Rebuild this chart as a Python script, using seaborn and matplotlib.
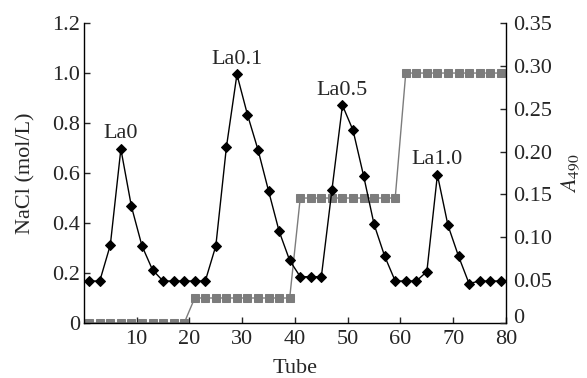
import matplotlib
matplotlib.use("Agg")
import matplotlib.pyplot as plt
import seaborn as sns

# tube numbers sampled (every second tube)
tubes = list(range(1, 80, 2))

# NaCl step gradient (left axis)
nacl = [0.0] * 10 + [0.1] * 10 + [0.5] * 10 + [1.0] * 10

# absorbance at 490 nm (right axis)
a490 = [
    0.049, 0.049, 0.091, 0.203, 0.136, 0.090, 0.062, 0.049, 0.049, 0.049,
    0.049, 0.049, 0.090, 0.205, 0.290, 0.243, 0.202, 0.154, 0.107, 0.073,
    0.054, 0.054, 0.054, 0.155, 0.254, 0.225, 0.172, 0.115, 0.078, 0.049,
    0.049, 0.049, 0.060, 0.173, 0.114, 0.078, 0.046, 0.049, 0.049, 0.049,
]

peak_labels = ["La0", "La0.1", "La0.5", "La1.0"]
peak_tubes = [7, 29, 49, 67]

sns.set_style("ticks")
plt.rcParams["font.family"] = ["Liberation Serif", "DejaVu Serif"]
plt.rcParams["mathtext.fontset"] = "stix"
plt.rcParams["font.size"] = 16

fig, ax = plt.subplots(figsize=(5.87, 3.78), dpi=100)
fig.subplots_adjust(left=0.143, right=0.862, bottom=0.1455, top=0.939)
ax2 = ax.twinx()

sns.lineplot(x=tubes, y=nacl, ax=ax, color="#7c7c7c", linewidth=1.0,
             marker="s", markersize=5.5, markeredgecolor="#7c7c7c", zorder=2)
sns.lineplot(x=tubes, y=a490, ax=ax2, color="black", linewidth=1.0,
             marker="D", markersize=5, markeredgecolor="black", zorder=3)

for lab, t in zip(peak_labels, peak_tubes):
    ax2.annotate(lab, xy=(t, a490[tubes.index(t)]), xytext=(0, 4),
                 textcoords="offset points", ha="center", va="bottom",
                 fontsize=16)

ax.set_xlim(0, 80)
ax.set_ylim(0, 1.2)
ax2.set_ylim(0, 0.35)

ax.set_xticks(range(10, 81, 10))
ax.set_yticks([0, 0.2, 0.4, 0.6, 0.8, 1.0, 1.2])
ax.set_yticklabels(["0", "0.2", "0.4", "0.6", "0.8", "1.0", "1.2"])
ax2.set_yticks([0, 0.05, 0.10, 0.15, 0.20, 0.25, 0.30, 0.35])
ax2.set_yticklabels(["0", "0.05", "0.10", "0.15", "0.20", "0.25", "0.30", "0.35"])

ax.set_xlabel("Tube", labelpad=7)
ax.set_ylabel("NaCl (mol/L)", labelpad=12)
ax2.set_ylabel(r"$A_{490}$", labelpad=6)

for a in (ax, ax2):
    a.spines["top"].set_visible(False)
    for s in a.spines.values():
        s.set_linewidth(1.0)
        s.set_color("black")
    a.tick_params(direction="in", length=4, width=1.0, labelsize=16, pad=3)
ax.tick_params(axis="x", pad=5)
ax2.tick_params(axis="y", pad=5)
ax.spines["right"].set_visible(False)
ax2.spines["left"].set_visible(False)
ax2.spines["bottom"].set_visible(False)

# the right-hand "0" sits on the axis line, as in the original
ax2.get_yticklabels()[0].set_verticalalignment("baseline")

fig.savefig("out.png", dpi=100)
